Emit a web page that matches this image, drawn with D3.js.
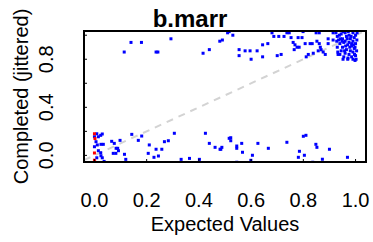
<!DOCTYPE html>
<html>
<head>
<meta charset="utf-8">
<script src="https://cdn.jsdelivr.net/npm/d3@7"></script>
<style>
  body { margin: 0; background: #fff; }
  svg { display: block; font-family: "Liberation Sans", Arial, sans-serif; }
</style>
</head>
<body>
<div id="chart"></div>
<script>
// Data: expected value vs jittered completion
let blueExpected = [
    0.114, 0.14, 0.18, 0.236, 0.243, 0.293, 0.416, 0.44, 0.48, 0.49, 0.516,
    0.51, 0.53, 0.554, 0.554, 0.577, 0.596, 0.60, 0.623, 0.644, 0.644, 0.664, 0.68,
    0.687, 0.706, 0.726, 0.70, 0.715, 0.737, 0.746, 0.753, 0.761, 0.768, 0.776, 0.765,
    0.784, 0.78, 0.795, 0.799, 0.807, 0.811, 0.819, 0.826, 0.834, 0.838, 0.849, 0.861,
    0.852, 0.861, 0.865, 0.868, 0.857, 0.876, 0.884, 0.895, 0.895, 0.914, 0.914,
    0.925, 0.93, 0.935, 0.94, 0.93, 0.945, 0.95, 0.955, 0.95, 0.945, 0.96, 0.965, 0.96,
    0.97, 0.965, 0.96, 0.975, 0.98, 0.975, 0.985, 0.98, 0.975, 0.99, 0.995, 0.99, 0.985,
    0.995, 0.99, 0.985, 1.0, 1.005, 1.0, 0.998, 1.004, 1.0, 0.94, 0.955, 0.97, 0.99,
    1.002, 0.928, 0.938, 0.952, 0.968, 0.978, 0.992, 0.962, 0.948, 0.983, 0.972, 1.006,
    0.996, 0.958, 0.942, 0.932, 0.933, 0.952, 0.971, 0.998,
    // lower band
    0.0, 0.009, 0.015, 0.024, 0.03, 0.006, 0.0, 0.011, 0.025, 0.034, 0.015, 0.024,
    0.025, 0.03, 0.009, 0.037, 0.066, 0.076, 0.083, 0.089, 0.098, 0.092, 0.072, 0.082,
    0.115, 0.12, 0.143, 0.168, 0.181, 0.21, 0.206, 0.228, 0.236, 0.245, 0.258, 0.268,
    0.283, 0.306, 0.332, 0.364, 0.402, 0.425, 0.44, 0.462, 0.484, 0.488, 0.516,
    0.481, 0.522, 0.522, 0.545, 0.545, 0.564, 0.567, 0.545, 0.605, 0.599, 0.626, 0.666,
    0.737, 0.785, 0.781, 0.80, 0.81, 0.804, 0.836, 0.848, 0.852, 0.873, 0.90, 0.969
];
let blueCompleted = [
    0.86, 0.94, 0.94, 0.86, 0.86, 0.97, 0.85, 0.88, 0.95, 0.96, 1.03,
    1.02, 1.0, 0.88, 0.83, 0.87, 0.87, 0.80, 0.87, 0.92, 0.82, 0.93, 1.02,
    0.99, 0.99, 0.99, 0.83, 0.84, 1.02, 1.02, 0.98, 0.94, 0.92, 0.90, 0.88,
    0.90, 0.98, 0.98, 1.03, 0.93, 0.82, 0.84, 0.93, 0.93, 0.85, 1.02, 1.02,
    0.95, 0.93, 0.90, 0.88, 0.87, 0.86, 0.84, 0.97, 0.93, 0.96, 1.02,
    1.02, 0.99, 0.96, 0.93, 0.90, 1.01, 0.97, 0.94, 0.90, 0.87, 1.02, 0.99, 0.95,
    0.92, 0.88, 0.85, 1.0, 0.97, 0.94, 0.91, 0.87, 0.84, 1.02, 0.98, 0.95, 0.93,
    0.89, 0.86, 0.82, 1.0, 0.96, 0.93, 0.90, 0.87, 0.83, 0.84, 0.82, 0.80, 0.80,
    0.80, 0.95, 1.0, 1.03, 0.97, 0.90, 0.92, 0.91, 0.95, 0.99, 1.03, 1.02,
    0.84, 0.87, 0.97, 0.86, 0.84, 0.80, 0.81, 0.79,
    // lower band
    0.155, 0.18, 0.155, 0.167, 0.178, 0.114, 0.072, 0.087, 0.092, 0.092, 0.039, 0.022,
    -0.003, -0.02, -0.02, -0.05, 0.117, 0.10, 0.059, 0.059, 0.125, 0.039, 0.017, 0.017,
    0.009, -0.033, 0.175, 0.125, 0.161, 0.087, 0.017, -0.016, 0.051, -0.005, 0.051, 0.114,
    0.122, 0.184, -0.033, -0.025, -0.033, 0.184, 0.10, 0.067, 0.051, 0.067, 0.142,
    0.051, 0.147, 0.122, 0.078, 0.059, 0.10, 0.026, -0.057, 0.001, -0.041, 0.10, 0.059,
    0.109, 0.034, -0.016, 0.159, 0.167, 0.001, -0.057, 0.092, 0.067, -0.032, 0.051, -0.016
];
let redExpected = [0.0, 0.002, 0.0, 0.0, 0.001];
let redCompleted = [0.18, 0.14, 0.02, -0.04, -0.055];

let xTicks = [0, 0.2, 0.4, 0.6, 0.8, 1.0];
let yTicks = [0, 0.2, 0.4, 0.6, 0.8, 1.0];
let yLabelTicks = [0, 0.4, 0.8];

let width = 373, height = 242;
let box = { left: 84, right: 366, top: 31, bottom: 162 };

let x = d3.scaleLinear().domain([-0.04, 1.04]).range([box.left, box.right]);
let y = d3.scaleLinear().domain([-0.055, 1.035]).range([box.bottom, box.top]);

let svg = d3.select("#chart").append("svg")
    .attr("width", width)
    .attr("height", height);

svg.append("clipPath").attr("id", "plotClip")
    .append("rect")
    .attr("x", box.left).attr("y", box.top)
    .attr("width", box.right - box.left).attr("height", box.bottom - box.top);

let plot = svg.append("g").attr("clip-path", "url(#plotClip)");

// reference line y = x
plot.append("line")
    .attr("x1", x(-0.04)).attr("y1", y(-0.04))
    .attr("x2", x(1.04)).attr("y2", y(1.04))
    .attr("stroke", "#d3d3d3")
    .attr("stroke-width", 2)
    .attr("stroke-dasharray", "7,6");

let blue = blueExpected.map((d, i) => ({ e: d, c: blueCompleted[i] }));
let red = redExpected.map((d, i) => ({ e: d, c: redCompleted[i] }));

plot.selectAll("rect.blue")
    .data(blue)
    .join("rect")
    .attr("class", "blue")
    .attr("x", d => x(d.e) - 1.5)
    .attr("y", d => y(d.c) - 1.5)
    .attr("width", 3).attr("height", 3)
    .attr("fill", "#0000ff");

plot.selectAll("rect.red")
    .data(red)
    .join("rect")
    .attr("class", "red")
    .attr("x", d => x(d.e) - 1.5)
    .attr("y", d => y(d.c) - 1.5)
    .attr("width", 3).attr("height", 3)
    .attr("fill", "#ff0000");

// box
svg.append("rect")
    .attr("x", box.left).attr("y", box.top)
    .attr("width", box.right - box.left).attr("height", box.bottom - box.top)
    .attr("fill", "none")
    .attr("stroke", "#000")
    .attr("stroke-width", 2);

// small tick marks
svg.append("g").selectAll("line")
    .data(xTicks)
    .join("line")
    .attr("x1", d => x(d)).attr("x2", d => x(d))
    .attr("y1", box.bottom).attr("y2", box.bottom - 3)
    .attr("stroke", "#000");

svg.append("g").selectAll("line")
    .data(yTicks)
    .join("line")
    .attr("y1", d => y(d)).attr("y2", d => y(d))
    .attr("x1", box.left).attr("x2", box.left + 3)
    .attr("stroke", "#000");

// tick labels
svg.append("g").selectAll("text")
    .data(xTicks)
    .join("text")
    .attr("x", d => x(d))
    .attr("y", 207)
    .attr("text-anchor", "middle")
    .style("font-size", "20px")
    .text(d => d.toFixed(1));

svg.append("g").selectAll("text")
    .data(yLabelTicks)
    .join("text")
    .attr("transform", d => `translate(53,${y(d)}) rotate(-90)`)
    .attr("text-anchor", "middle")
    .style("font-size", "20px")
    .text(d => d.toFixed(1));

// axis titles
svg.append("text")
    .attr("x", 225)
    .attr("y", 231)
    .attr("text-anchor", "middle")
    .style("font-size", "20px")
    .text("Expected Values");

svg.append("text")
    .attr("transform", `translate(28,${(box.top + box.bottom) / 2}) rotate(-90)`)
    .attr("text-anchor", "middle")
    .style("font-size", "20px")
    .text("Completed (jittered)");

// title
svg.append("text")
    .attr("x", 190)
    .attr("y", 27)
    .attr("text-anchor", "middle")
    .style("font-size", "24px")
    .style("font-weight", "bold")
    .text("b.marr");
</script>
</body>
</html>
